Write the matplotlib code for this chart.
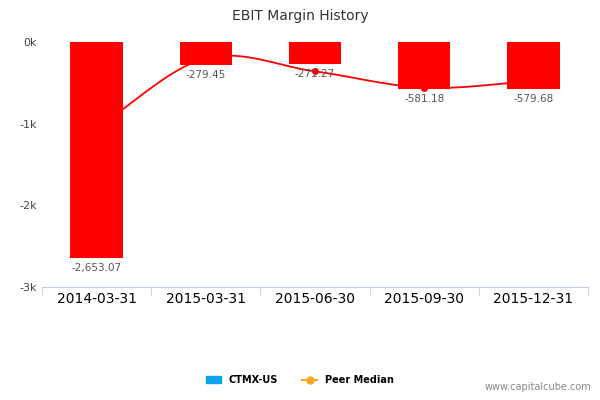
import numpy as np
import matplotlib.pyplot as plt
from matplotlib.lines import Line2D
from matplotlib.patches import Patch

dates = ['2014-03-31', '2015-03-31', '2015-06-30', '2015-09-30', '2015-12-31']
ebit_margin = [-2653.07, -279.45, -271.27, -581.18, -579.68]
peer_median = [-1050, -200, -360, -560, -480]
labels = ['-2,653.07', '-279.45', '-271.27', '-581.18', '-579.68']

fig = plt.figure(figsize=(6, 4), dpi=100)
ax = fig.add_axes([0.07, 0.283, 0.91, 0.612])
x = np.arange(len(dates))
ax.bar(x, ebit_margin, width=0.48, color='#ff0000', zorder=2)
for xi, v, lab in zip(x, ebit_margin, labels):
    ax.text(xi, v - 60, lab, ha='center', va='top', fontsize=7.5, color='#555555', zorder=4)

# smooth the peer median line through its points (Catmull-Rom)
px = np.array(x, float)
py = np.array(peer_median, float)
xs, ys = [], []
P = np.column_stack([px, py])
P = np.vstack([2 * P[0] - P[1], P, 2 * P[-1] - P[-2]])
for i in range(1, len(P) - 2):
    t = np.linspace(0, 1, 30)[:, None]
    p0, p1, p2, p3 = P[i - 1], P[i], P[i + 1], P[i + 2]
    seg = 0.5 * ((2 * p1) + (-p0 + p2) * t + (2 * p0 - 5 * p1 + 4 * p2 - p3) * t ** 2
                 + (-p0 + 3 * p1 - 3 * p2 + p3) * t ** 3)
    xs.extend(seg[:, 0]); ys.extend(seg[:, 1])
ax.plot(xs, ys, color='#ff0000', lw=1.3, zorder=3)
ax.plot(px, py, 'o', color='#ff0000', ms=4, zorder=3)

ax.set_xlim(-0.5, 4.5)
ax.set_ylim(-3000, 0)
ax.set_yticks([0, -1000, -2000, -3000])
ax.set_yticklabels(['0k', '-1k', '-2k', '-3k'], fontsize=8, color='#444444')
ax.set_xticks(x)
ax.set_xticklabels(dates, rotation=45, ha='right', fontsize=8, color='#444444')
ax.set_xticks(np.arange(-0.5, 5, 1), minor=True)
ax.tick_params(axis='x', which='major', length=0)
ax.tick_params(axis='x', which='minor', length=6, color='#c0d0e0')
ax.tick_params(axis='y', length=0)
for s in ['top', 'right', 'left']:
    ax.spines[s].set_visible(False)
ax.spines['bottom'].set_color('#c0d0e0')
ax.spines['bottom'].set_position(('data', -3000))

fig.text(0.5, 0.96, 'EBIT Margin History', ha='center', va='center', fontsize=10, color='#333333')
handles = [Patch(color='#0ea0e8', label='CTMX-US'),
           Line2D([0], [0], color='#f5a623', marker='o', ms=5, label='Peer Median')]
fig.legend(handles=handles, loc='center', bbox_to_anchor=(0.5, 0.05), ncol=2, frameon=False,
           fontsize=7, handlelength=1.5, columnspacing=2.5, prop={'weight': 'bold', 'size': 7})
fig.text(0.985, 0.02, 'www.capitalcube.com', ha='right', va='bottom', fontsize=7, color='#888888')
fig.savefig('out.png', dpi=100)
